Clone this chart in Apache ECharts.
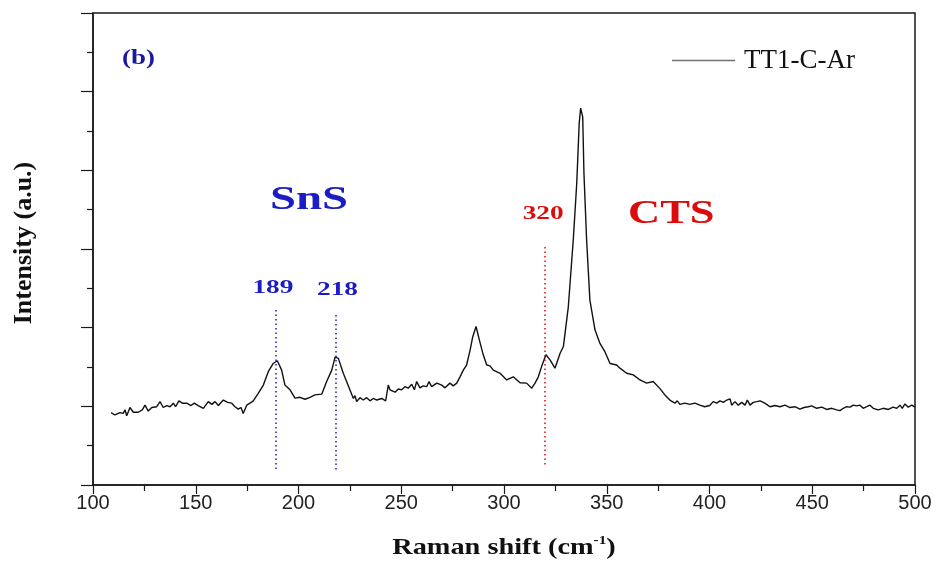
<!DOCTYPE html>
<html>
<head>
<meta charset="utf-8">
<script src="https://cdn.jsdelivr.net/npm/echarts@6/dist/echarts.min.js"></script>
<style>
  html, body { margin: 0; padding: 0; background: #fff; }
  #chart { width: 937px; height: 561px; }
</style>
</head>
<body>
<div id="chart"></div>
<script>
// Raman spectrum of sample TT1-C-Ar
const seriesName = 'TT1-C-Ar';

const ramanShift = [
  108.8, 110.7, 113.1, 114.7, 115.6, 116.4, 118.0, 119.6, 122.0, 124.0,
  125.3, 126.9, 128.6, 131.0, 132.6, 134.2, 135.9, 137.5, 139.1, 140.2,
  141.8, 143.5, 145.6, 147.7, 149.3, 151.2, 153.7, 156.1, 157.8, 159.4,
  161.0, 163.4, 165.5, 167.5, 169.1, 170.7, 172.0, 173.1, 174.8, 176.4,
  178.0, 180.4, 182.9, 185.3, 187.7, 189.7, 191.8, 193.4, 195.9, 198.3,
  200.7, 203.2, 205.6, 208.0, 211.3, 213.7, 216.2, 217.8, 219.4, 221.8,
  225.0, 226.7, 227.5, 228.3, 229.9, 231.5, 233.2, 234.8, 236.4, 238.1,
  240.5, 242.4, 243.7, 244.5, 245.4, 247.0, 248.6, 250.2, 251.8, 253.4,
  255.1, 256.4, 257.5, 259.1, 260.7, 262.4, 263.5, 264.8, 267.3, 269.7,
  271.3, 273.7, 275.3, 277.0, 278.6, 280.2, 281.8, 283.5, 284.8, 286.4,
  288.0, 289.9, 291.6, 293.2, 294.8, 298.1, 301.3, 304.5, 307.8, 311.0,
  313.5, 315.1, 316.7, 318.3, 320.4, 322.4, 324.8, 327.3, 328.9, 331.3,
  333.7, 335.4, 336.6, 337.3, 338.3, 338.9, 340.2, 341.8, 344.3, 346.7,
  349.1, 351.6, 354.8, 356.4, 359.7, 362.9, 366.2, 369.4, 372.6, 375.9,
  378.3, 380.7, 383.2, 384.3, 385.6, 388.0, 390.4, 392.9, 395.3, 397.7,
  400.1, 401.8, 403.5, 405.1, 406.7, 408.4, 410.0, 410.8, 412.4, 414.0,
  415.7, 417.3, 418.4, 419.7, 421.3, 423.0, 424.6, 426.2, 427.8, 429.4,
  431.9, 434.3, 436.7, 439.2, 441.6, 444.0, 446.0, 448.1, 449.7, 452.2,
  454.6, 457.0, 459.5, 461.9, 463.5, 465.1, 466.8, 468.4, 470.0, 471.6,
  473.2, 474.8, 476.5, 478.1, 479.7, 482.1, 484.6, 487.0, 489.4, 491.1,
  492.7, 493.8, 495.1, 496.7, 498.4, 500.0
];

const intensity = [
  1.84, 1.78, 1.84, 1.82, 1.91, 1.76, 1.97, 1.85, 1.85, 1.91,
  2.03, 1.88, 1.97, 1.99, 2.12, 1.97, 2.02, 1.99, 2.08, 1.99,
  2.14, 2.08, 2.08, 2.02, 2.08, 2.02, 1.95, 2.12, 2.05, 2.12,
  2.02, 2.16, 2.10, 2.08, 1.99, 1.93, 1.97, 1.82, 2.03, 2.08,
  2.14, 2.33, 2.54, 2.88, 3.09, 3.16, 2.92, 2.54, 2.42, 2.21,
  2.23, 2.18, 2.23, 2.29, 2.31, 2.63, 2.92, 3.25, 3.22, 2.84,
  2.42, 2.20, 2.27, 2.12, 2.22, 2.16, 2.22, 2.14, 2.20, 2.16,
  2.20, 2.14, 2.54, 2.42, 2.39, 2.36, 2.44, 2.42, 2.50, 2.46,
  2.56, 2.42, 2.63, 2.47, 2.52, 2.50, 2.63, 2.50, 2.59, 2.54,
  2.47, 2.59, 2.52, 2.59, 2.75, 2.92, 3.05, 3.43, 3.77, 4.03,
  3.69, 3.31, 3.05, 3.03, 2.92, 2.84, 2.67, 2.75, 2.60, 2.59,
  2.46, 2.59, 2.75, 3.01, 3.31, 3.18, 2.97, 3.35, 3.52, 4.53,
  6.23, 7.67, 9.20, 9.58, 9.36, 7.93, 6.23, 4.70, 3.94, 3.60,
  3.39, 3.09, 3.05, 2.97, 2.84, 2.80, 2.67, 2.59, 2.63, 2.45,
  2.29, 2.16, 2.08, 2.14, 2.05, 2.08, 2.05, 2.08, 2.03, 1.99,
  2.02, 2.12, 2.08, 2.14, 2.10, 2.16, 2.19, 2.03, 2.12, 2.03,
  2.10, 2.03, 2.16, 2.03, 2.10, 2.12, 2.14, 2.10, 2.05, 1.99,
  2.02, 1.99, 2.03, 1.97, 1.99, 1.93, 1.97, 1.99, 2.01, 1.95,
  1.98, 1.92, 1.95, 1.91, 1.89, 1.95, 1.99, 1.98, 2.03, 2.01,
  2.03, 1.95, 1.99, 2.03, 1.95, 1.91, 1.95, 1.92, 1.98, 1.95,
  2.03, 1.95, 2.06, 1.98, 2.03, 1.98
];

// Assigned peak positions (cm-1)
const snsPeaks = [189, 218];
const ctsPeaks = [320];

const xTicks = { min: 100, max: 500, step: 50 };
const yRange = { min: 0, max: 12, step: 2 };

const blue = '#1c1cc4';
const red = '#dd0c0c';
const serif = '"Liberation Serif", "Times New Roman", serif';
const sans = '"Liberation Sans", Arial, sans-serif';

// Dotted guide extents and label heights, in intensity units
const guideStyle = {
  189: { top: 4.45, bottom: 0.33, labelAt: 5.0, dx: -3, color: blue },
  218: { top: 4.32, bottom: 0.38, labelAt: 4.96, dx: 2, color: blue },
  320: { top: 6.05, bottom: 0.46, labelAt: 6.9, dx: -2, color: red }
};
const peaks = snsPeaks.concat(ctsPeaks);

const spectrum = ramanShift.map((x, i) => [x, intensity[i]]);

const chart = echarts.init(document.getElementById('chart'), null, { renderer: 'canvas' });

chart.setOption({
  backgroundColor: '#ffffff',
  animation: false,
  grid: {
    left: 93, right: 22, top: 13, bottom: 76,
    outerBoundsMode: 'none',
    show: true, borderColor: '#1a1a1a', borderWidth: 1.5
  },
  legend: {
    data: [{ name: seriesName, icon: 'rect' }],
    left: 672, top: 47, padding: 0,
    itemWidth: 63, itemHeight: 1.5,
    itemStyle: { color: '#707070' },
    textStyle: { fontFamily: serif, fontSize: 27, color: '#111', padding: [0, 0, 0, 4] }
  },
  xAxis: {
    type: 'value',
    min: xTicks.min, max: xTicks.max, interval: xTicks.step,
    axisLine: { lineStyle: { color: '#1a1a1a', width: 1.5 } },
    axisTick: { length: 9, lineStyle: { color: '#1a1a1a', width: 1.2 } },
    minorTick: { show: true, splitNumber: 2, length: 6, lineStyle: { color: '#1a1a1a', width: 1.2 } },
    axisLabel: { margin: 8, fontFamily: sans, fontSize: 20, color: '#222' },
    splitLine: { show: false }
  },
  yAxis: {
    type: 'value',
    min: yRange.min, max: yRange.max, interval: yRange.step,
    axisLine: { lineStyle: { color: '#1a1a1a', width: 1.5 } },
    axisTick: { length: 12, lineStyle: { color: '#1a1a1a', width: 1.2 } },
    minorTick: { show: true, splitNumber: 2, length: 6, lineStyle: { color: '#1a1a1a', width: 1.2 } },
    axisLabel: { show: false },
    splitLine: { show: false }
  },
  series: [
    {
      name: seriesName,
      type: 'line',
      data: spectrum,
      showSymbol: false,
      symbol: 'none',
      lineStyle: { color: '#111', width: 1.4 },
      itemStyle: { color: '#111' },
      markLine: {
        silent: true,
        symbol: ['none', 'none'],
        label: { show: false },
        lineStyle: { type: [1.5, 3], width: 1.5 },
        data: peaks.map(p => [
          { coord: [p, guideStyle[p].top], lineStyle: { color: guideStyle[p].color } },
          { coord: [p, guideStyle[p].bottom] }
        ])
      }
    }
  ]
});

// Peak labels placed through the axes, plus titles and sample annotations
const peakLabels = peaks.map(p => {
  const pt = chart.convertToPixel({ gridIndex: 0 }, [p, guideStyle[p].labelAt]);
  return {
    type: 'text', x: pt[0] + guideStyle[p].dx, y: pt[1], scaleX: 1.4,
    style: {
      text: String(p), fontFamily: serif, fontSize: 19.5, fontWeight: 'bold',
      fill: guideStyle[p].color, align: 'center', verticalAlign: 'middle',
      textAlign: 'center', textVerticalAlign: 'middle'
    }
  };
});

chart.setOption({
  graphic: peakLabels.concat([
    {
      type: 'text', x: 122, y: 58.5, scaleX: 1.35,
      style: { text: '(b)', fontFamily: serif, fontSize: 20, fontWeight: 'bold', fill: '#1a1a9c',
        align: 'left', verticalAlign: 'middle', textAlign: 'left', textVerticalAlign: 'middle' }
    },
    {
      type: 'text', x: 270, y: 200, scaleX: 1.42,
      style: { text: 'SnS', fontFamily: serif, fontSize: 33, fontWeight: 'bold', fill: blue,
        align: 'left', verticalAlign: 'middle', textAlign: 'left', textVerticalAlign: 'middle' }
    },
    {
      type: 'text', x: 628, y: 214, scaleX: 1.31,
      style: { text: 'CTS', fontFamily: serif, fontSize: 34, fontWeight: 'bold', fill: red,
        align: 'left', verticalAlign: 'middle', textAlign: 'left', textVerticalAlign: 'middle' }
    },
    {
      type: 'text', x: 504, y: 548, scaleX: 1.18,
      style: {
        text: 'Raman shift (cm{sup|-1})', fontFamily: serif, fontSize: 24, fontWeight: 'bold', fill: '#111',
        align: 'center', verticalAlign: 'middle', textAlign: 'center', textVerticalAlign: 'middle',
        rich: { sup: { fontFamily: serif, fontSize: 13, fontWeight: 'bold', fill: '#111', verticalAlign: 'top', padding: [0, 0, 14, 0] } }
      }
    },
    {
      type: 'text', x: 24, y: 243, rotation: Math.PI / 2,
      style: { text: 'Intensity (a.u.)', fontFamily: serif, fontSize: 26, fontWeight: 'bold', fill: '#111',
        align: 'center', verticalAlign: 'middle', textAlign: 'center', textVerticalAlign: 'middle' }
    }
  ])
});
</script>
</body>
</html>
